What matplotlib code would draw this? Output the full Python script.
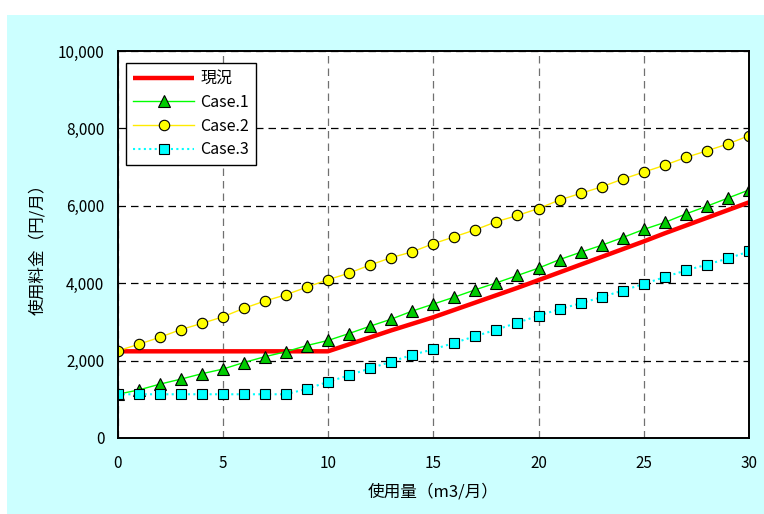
import matplotlib
matplotlib.use("Agg")
import matplotlib.pyplot as plt
from matplotlib.patches import Rectangle
from matplotlib.ticker import FuncFormatter

plt.rcParams['font.family'] = ['Noto Sans CJK JP', 'DejaVu Sans']

usage = list(range(0, 31))
genjo = [2240, 2240, 2240, 2240, 2240, 2240, 2240, 2240, 2240, 2240, 2240,
         2420, 2600, 2780, 2950, 3120, 3310, 3500, 3690, 3880, 4080,
         4280, 4480, 4680, 4880, 5080, 5290, 5490, 5690, 5890, 6090]
case1 = [1130, 1240, 1390, 1520, 1660, 1780, 1950, 2100, 2230, 2390, 2520,
         2700, 2890, 3070, 3280, 3460, 3640, 3830, 4010, 4200, 4390,
         4610, 4800, 4980, 5180, 5390, 5570, 5790, 5990, 6200, 6410]
case2 = [2250, 2420, 2600, 2800, 2960, 3130, 3350, 3540, 3700, 3900, 4090,
         4260, 4470, 4660, 4810, 5020, 5200, 5380, 5590, 5750, 5930,
         6150, 6320, 6490, 6690, 6870, 7050, 7250, 7420, 7600, 7810]
case3 = [1130, 1130, 1130, 1130, 1130, 1130, 1130, 1130, 1130, 1270, 1450,
         1620, 1800, 1970, 2150, 2290, 2460, 2630, 2800, 2980, 3160,
         3330, 3480, 3640, 3810, 3980, 4160, 4330, 4480, 4640, 4820]
series_names = ['現況', 'Case.1', 'Case.2', 'Case.3']
x_ticks = [0, 5, 10, 15, 20, 25, 30]
y_ticks = [0, 2000, 4000, 6000, 8000, 10000]

W, H = 764, 514
fig = plt.figure(figsize=(W / 100, H / 100), dpi=100, facecolor='white')
bg = Rectangle((7 / W, 0), 1 - 7 / W, 1 - 15 / H, transform=fig.transFigure,
               facecolor='#CCFFFF', edgecolor='none', zorder=-10)
fig.patches.append(bg)

ax = fig.add_axes([117.5 / W, 1 - 438 / H, (749 - 117.5) / W, (438 - 51) / H])
ax.set_facecolor('white')
ax.set_xlim(0, 30)
ax.set_ylim(0, 10000)

ax.plot(usage, genjo, color='#FF0000', lw=3.2, solid_capstyle='butt',
        label=series_names[0], zorder=3)
ax.plot(usage, case1, color='#00FF00', lw=1.0, marker='^', ms=8.5,
        mfc='#00CC00', mec='black', mew=0.8, label=series_names[1], zorder=4)
ax.plot(usage, case2, color='#FFEB00', lw=1.0, marker='o', ms=7.5,
        mfc='#FFFF00', mec='black', mew=0.8, label=series_names[2], zorder=5)
ax.plot(usage, case3, color='#00FFFF', lw=1.5, linestyle=(0, (1, 1.6)),
        marker='s', ms=7.5, mfc='#00FFFF', mec='black', mew=0.8,
        label=series_names[3], zorder=6)

ax.set_xticks(x_ticks)
ax.set_yticks(y_ticks)
ax.yaxis.set_major_formatter(FuncFormatter(lambda v, p: f'{int(v):,}'))
ax.tick_params(axis='both', length=0, labelsize=11, colors='black')
ax.tick_params(axis='y', pad=9.5)
ax.tick_params(axis='x', pad=12)

ax.xaxis.grid(True, color='#707070', lw=0.9, linestyle=(0, (6, 4)))
ax.yaxis.grid(True, color='black', lw=0.9, linestyle=(0, (6, 4)))
ax.set_axisbelow(True)
for s in ax.spines.values():
    s.set_color('black')
    s.set_linewidth(1.4)
    s.set_zorder(10)

leg = ax.legend(loc='upper left', bbox_to_anchor=(0.0135, 0.969),
                borderaxespad=0, fancybox=False, framealpha=1,
                edgecolor='black', fontsize=11.5, handlelength=3.8,
                handletextpad=0.4, labelspacing=0.42, borderpad=0.45)
leg.get_frame().set_linewidth(1.0)
leg.set_zorder(20)

fig.text(433 / W, 1 - 492 / H, '使用量（m3/月）', ha='center', va='center',
         fontsize=12)
fig.text(38 / W, 1 - 245 / H, '使用料金（円/月）', ha='center', va='center',
         rotation=90, fontsize=12)

fig.savefig('out.png', dpi=100, facecolor=fig.get_facecolor())
